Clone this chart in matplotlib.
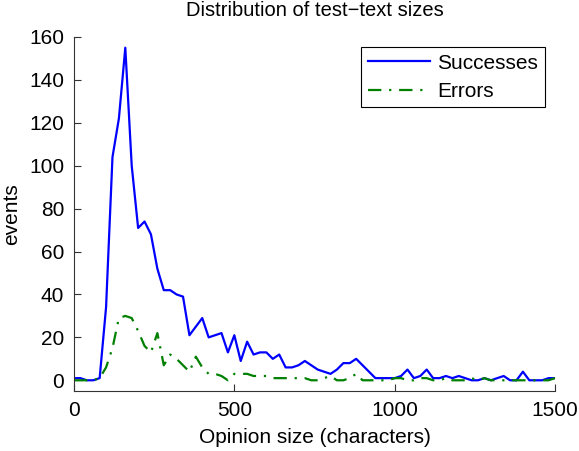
import matplotlib
matplotlib.use("Agg")
import matplotlib.pyplot as plt
import numpy as np

plt.rcParams['font.family'] = ['Liberation Sans', 'DejaVu Sans']

opinion_size = list(range(0, 1501, 20))
successes = [1, 1, 0, 0, 1, 34, 104, 122, 155, 100, 71, 74, 68, 52, 42, 42, 40, 39, 21, 25,
             29, 20, 21, 22, 13, 21, 9, 18, 12, 13, 13, 10, 12, 6, 6, 7, 9, 7, 5, 4,
             3, 5, 8, 8, 10, 7, 4, 1, 1, 1, 1, 2, 5, 1, 2, 5, 1, 1, 2, 1,
             2, 1, 0, 0, 1, 0, 1, 2, 0, 0, 4, 0, 0, 0, 1, 1]
errors = [0, 0, 0, 0, 1, 6, 15, 29, 30, 29, 23, 16, 13, 22, 7, 12, 10, 7, 4, 11,
          6, 3, 3, 2, 0, 3, 3, 3, 2, 2, 2, 1, 1, 1, 1, 1, 1, 0, 0, 1,
          2, 0, 0, 1, 3, 0, 0, 0, 0, 0, 1, 1, 0, 0, 1, 1, 0, 0, 1, 0,
          0, 0, 1, 0, 1, 0, 0, 0, 0, 0, 0, 0, 0, 0, 0, 1]

fig = plt.figure(figsize=(5.79, 4.51), dpi=100)
ax = fig.add_axes([0.1278, 0.133, 0.8307, 0.785])

ax.plot(opinion_size, successes, color=(0, 0, 1), lw=1.6, label='Successes')
ax.plot(opinion_size, errors, color=(0, 0.5, 0), lw=1.6,
        linestyle=(0, (6, 3.5, 1, 3.5)), label='Errors')

ax.set_xlim(0, 1500)
ax.set_ylim(-5, 160)
ax.set_xticks([0, 500, 1000, 1500])
ax.set_yticks(list(range(0, 161, 20)))
for s in ['top', 'right']:
    ax.spines[s].set_visible(False)
for s in ['left', 'bottom']:
    ax.spines[s].set_color('#333333')
    ax.spines[s].set_linewidth(0.8)
ax.tick_params(direction='in', length=5, width=0.8, labelsize=15, colors='#333333',
               labelcolor='black', pad=7)

ax.set_xlabel('Opinion size (characters)', fontsize=15, labelpad=6)
ax.set_ylabel('events', fontsize=15, labelpad=6)
ax.set_title('Distribution of test\u2212text sizes', fontsize=14.5, pad=15)

leg = ax.legend(loc='upper right', fontsize=15, handlelength=3.0, handletextpad=0.35,
                fancybox=False, framealpha=1, edgecolor='black',
                borderaxespad=0.5, borderpad=0.3, labelspacing=0.45)
leg.get_frame().set_linewidth(0.8)

fig.savefig('out.png', dpi=100)
